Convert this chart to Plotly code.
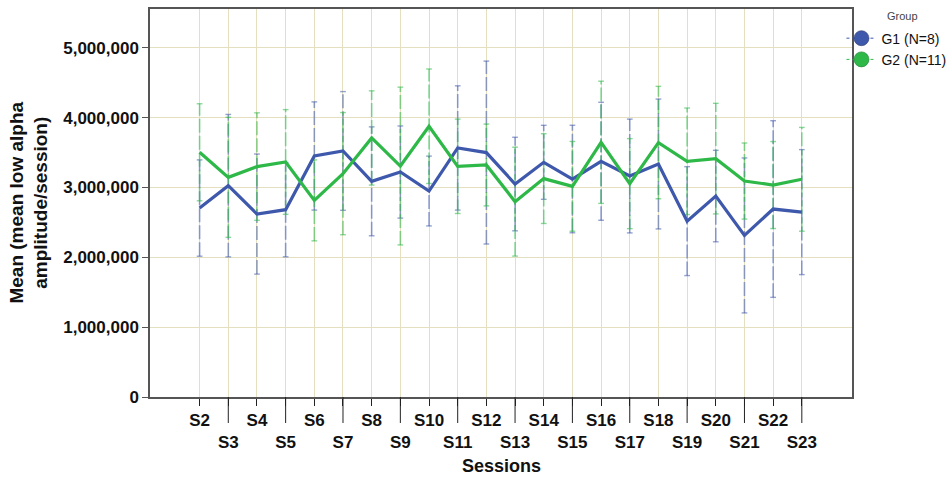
import plotly.graph_objects as go

# Sessions on the x axis
sessions = ["S2", "S3", "S4", "S5", "S6", "S7", "S8", "S9", "S10", "S11", "S12",
            "S13", "S14", "S15", "S16", "S17", "S18", "S19", "S20", "S21", "S22", "S23"]

# Group means (mean low alpha amplitude per session)
g1_mean = [2706000, 3027000, 2620000, 2683000, 3452000, 3524000, 3089000, 3222000,
           2950000, 3567000, 3501000, 3050000, 3361000, 3122000, 3376000, 3165000,
           3337000, 2519000, 2878000, 2314000, 2692000, 2648000]
g2_mean = [3505000, 3146000, 3300000, 3366000, 2816000, 3199000, 3710000, 3308000,
           3878000, 3304000, 3323000, 2798000, 3128000, 3017000, 3648000, 3056000,
           3644000, 3376000, 3414000, 3093000, 3036000, 3118000]

# Half-widths of the error bars
g1_err = [690000, 1020000, 860000, 675000, 775000, 850000, 780000, 660000, 500000,
          890000, 1310000, 670000, 530000, 770000, 845000, 815000, 930000, 780000,
          655000, 1110000, 1265000, 895000]
g2_err = [695000, 860000, 770000, 750000, 580000, 875000, 675000, 1130000, 820000,
          676000, 586000, 780000, 643000, 643000, 875000, 645000, 805000, 763000,
          792000, 545000, 623000, 743000]

y_ticks = [0, 1000000, 2000000, 3000000, 4000000, 5000000]

groups = [
    ("G1 (N=8)", g1_mean, g1_err, "#3E58AC", "rgba(62,88,172,0.55)", "#2a3a6a"),
    ("G2 (N=11)", g2_mean, g2_err, "#2EB848", "rgba(46,184,72,0.55)", "#1f7a32"),
]

xpos = list(range(len(sessions)))
cap = 0.1
FONT = "Liberation Sans, Arial"

fig = go.Figure()

for name, mean, err, col, soft, edge in groups:
    sx, sy, cx, cy = [], [], [], []
    for i, m, e in zip(xpos, mean, err):
        sx += [i, i, None]
        sy += [m - e, m + e, None]
        for v in (m - e, m + e):
            cx += [i - cap, i + cap, None]
            cy += [v, v, None]
    fig.add_trace(go.Scatter(x=sx, y=sy, mode="lines", showlegend=False,
                             hoverinfo="skip",
                             line=dict(color=soft, width=1.6, dash="14px,3px")))
    fig.add_trace(go.Scatter(x=cx, y=cy, mode="lines", showlegend=False,
                             hoverinfo="skip", line=dict(color=soft, width=1.4)))

for name, mean, err, col, soft, edge in groups:
    fig.add_trace(go.Scatter(x=xpos, y=mean, mode="lines", name=name,
                             showlegend=False, line=dict(color=col, width=3.2)))

# legend entries: filled circle on a thin dotted line
for name, mean, err, col, soft, edge in groups:
    fig.add_trace(go.Scatter(x=[None], y=[None], mode="lines+markers", name=name,
                             line=dict(color=col, width=1, dash="dot"),
                             marker=dict(color=col, size=15,
                                         line=dict(color=edge, width=0.6))))

# long ticks under the lower row of labels
for i in xpos[1::2]:
    fig.add_shape(type="line", xref="x", yref="paper", x0=i, x1=i, y0=0, y1=-0.067,
                  line=dict(color="#222", width=1))

ticktext = [s if k % 2 == 0 else "<br>" + s for k, s in enumerate(sessions)]

grid = "#E4DFBE"
fig.update_xaxes(range=[-1.73, 22.75], tickvals=xpos, ticktext=ticktext, tickangle=0,
                 showgrid=True, gridcolor=grid, gridwidth=1,
                 showline=True, linecolor="#555", linewidth=1.5, mirror=True,
                 ticks="outside", ticklen=7, tickcolor="#222",
                 tickfont=dict(family=FONT, size=17, color="#111", weight="bold"),
                 zeroline=False)
fig.update_yaxes(range=[0, 5557000], tickvals=y_ticks, tickformat=",",
                 showgrid=True, gridcolor=grid, gridwidth=1,
                 showline=True, linecolor="#555", linewidth=1.5, mirror=True,
                 ticks="outside", ticklen=6, tickcolor="#555",
                 tickfont=dict(family=FONT, size=17, color="#111", weight="bold"),
                 zeroline=False)

fig.add_annotation(text="<b>Mean (mean low alpha<br>amplitude/session)</b>",
                   xref="paper", yref="paper", x=-0.173, y=0.5, textangle=-90,
                   showarrow=False, xanchor="center", yanchor="middle",
                   font=dict(family=FONT, size=19, color="#111"))
fig.add_annotation(text="<b>Sessions</b>", xref="paper", yref="paper",
                   x=0.5, y=-0.178, showarrow=False, xanchor="center", yanchor="middle",
                   font=dict(family=FONT, size=18, color="#111"))
# legend heading
fig.add_annotation(text="Group", xref="paper", yref="paper", x=1.072, y=0.982,
                   showarrow=False, xanchor="center", yanchor="middle",
                   font=dict(family=FONT, size=11, color="#444"))

fig.update_layout(
    width=950, height=478,
    margin=dict(l=150, r=98, t=9, b=81, autoexpand=False),
    plot_bgcolor="white", paper_bgcolor="white",
    font=dict(family=FONT, color="#111"),
    legend=dict(x=0.985, y=0.965, xanchor="left", yanchor="top",
                font=dict(size=14, color="#111"), itemwidth=30,
                bgcolor="rgba(0,0,0,0)", tracegroupgap=0),
)

fig.write_html("out.html")
